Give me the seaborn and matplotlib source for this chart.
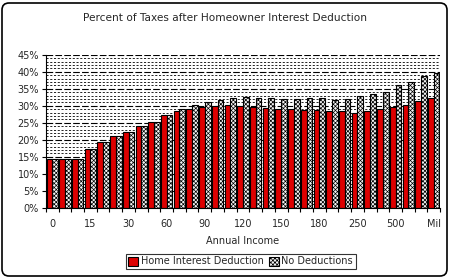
import matplotlib
matplotlib.use("Agg")
import matplotlib.pyplot as plt
import seaborn as sns
import pandas as pd
from matplotlib.patches import FancyBboxPatch
from matplotlib.ticker import MultipleLocator, FixedLocator

income = ['0', '5', '10', '15', '20', '25', '30', '40', '50', '60', '70', '80', '90',
          '100', '110', '120', '130', '140', '150', '160', '170', '180', '200', '225',
          '250', '300', '400', '500', '600', '750', 'Mil']
home_interest = [14.4, 14.4, 14.4, 17.4, 19.2, 21.2, 22.3, 23.9, 25.3, 27.4, 28.3, 28.9,
                 29.5, 29.8, 30.1, 30.0, 29.7, 29.3, 29.0, 28.9, 28.6, 28.6, 28.3, 28.3,
                 28.0, 28.3, 28.9, 29.5, 30.3, 31.5, 32.4]
no_deductions = [14.4, 14.4, 14.4, 17.4, 19.2, 21.2, 22.3, 24.1, 25.3, 27.4, 28.9, 30.1,
                 31.0, 31.6, 32.4, 32.6, 32.3, 32.3, 32.0, 32.1, 32.2, 32.2, 31.7, 32.1,
                 33.0, 33.5, 34.1, 36.0, 37.0, 38.6, 39.5]
series_names = ['Home Interest Deduction', 'No Deductions']
title = 'Percent of Taxes after Homeowner Interest Deduction'
x_label = 'Annual Income'

df = pd.DataFrame({
    'income': income * 2,
    'series': [series_names[0]] * len(income) + [series_names[1]] * len(income),
    'value': home_interest + no_deductions,
})

sns.set_style('white')
plt.rcParams['font.family'] = ['DejaVu Sans']
plt.rcParams['hatch.linewidth'] = 0.5

fig = plt.figure(figsize=(4.5, 2.78), dpi=100)
ax = fig.add_axes([0.102, 0.2529, 0.876, 0.5503])

sns.barplot(data=df, x='income', y='value', hue='series', order=income,
            hue_order=series_names, palette=['#DD0000', 'white'], width=0.9,
            edgecolor='black', linewidth=0.8, legend=False, ax=ax, saturation=1)

for p in ax.containers[1].patches:
    p.set_hatch('xxxxxxxx')
    p.set_facecolor('#f4f4f4')

ax.set_xlim(-0.5, len(income) - 0.5)
ax.set_ylim(0, 45)
ax.yaxis.set_major_locator(MultipleLocator(5))
ax.yaxis.set_minor_locator(MultipleLocator(1))
ax.set_yticklabels([f'{int(v)}%' for v in ax.get_yticks()])
ax.grid(axis='y', which='major', color='black', linestyle=(0, (6, 2)), linewidth=0.8)
ax.grid(axis='y', which='minor', color='black', linestyle=(0, (2.5, 2)), linewidth=0.6)
ax.set_axisbelow(True)

ax.xaxis.set_major_locator(FixedLocator(list(range(0, len(income), 3))))
ax.set_xticklabels([income[i] for i in range(0, len(income), 3)])
ax.xaxis.set_minor_locator(FixedLocator([i - 0.5 for i in range(len(income) + 1)]))
ax.tick_params(axis='x', which='major', length=0, labelsize=7, pad=8)
ax.tick_params(axis='x', which='minor', length=3, width=0.8, direction='out', color='black', bottom=True)
ax.tick_params(axis='y', which='major', length=3, width=0.8, direction='out', color='black', left=True, labelsize=7, pad=2)
ax.tick_params(axis='y', which='minor', length=0)

for s in ['top', 'right']:
    ax.spines[s].set_visible(False)
for s in ['left', 'bottom']:
    ax.spines[s].set_color('black')
    ax.spines[s].set_linewidth(0.8)

ax.set_xlabel(x_label, fontsize=7, labelpad=5)
ax.set_ylabel('')
fig.text(0.5, 1 - 18 / 278, title, ha='center', va='center', fontsize=7.6)

leg = fig.legend([ax.containers[0], ax.containers[1]], series_names, loc='center',
                 bbox_to_anchor=(0.535, 1 - 261.5 / 278), ncol=2, fontsize=7,
                 frameon=True, fancybox=False, edgecolor='black', handlelength=1.0,
                 handleheight=1.0, handletextpad=0.3, columnspacing=0.5, borderpad=0.25,
                 borderaxespad=0)
leg.get_frame().set_linewidth(0.8)

border = FancyBboxPatch((2, 2), 445, 273, boxstyle='round,pad=0,rounding_size=7',
                        transform=None, facecolor='none', edgecolor='black',
                        linewidth=1.2)
fig.patches.append(border)

fig.savefig('out.png', dpi=100)
